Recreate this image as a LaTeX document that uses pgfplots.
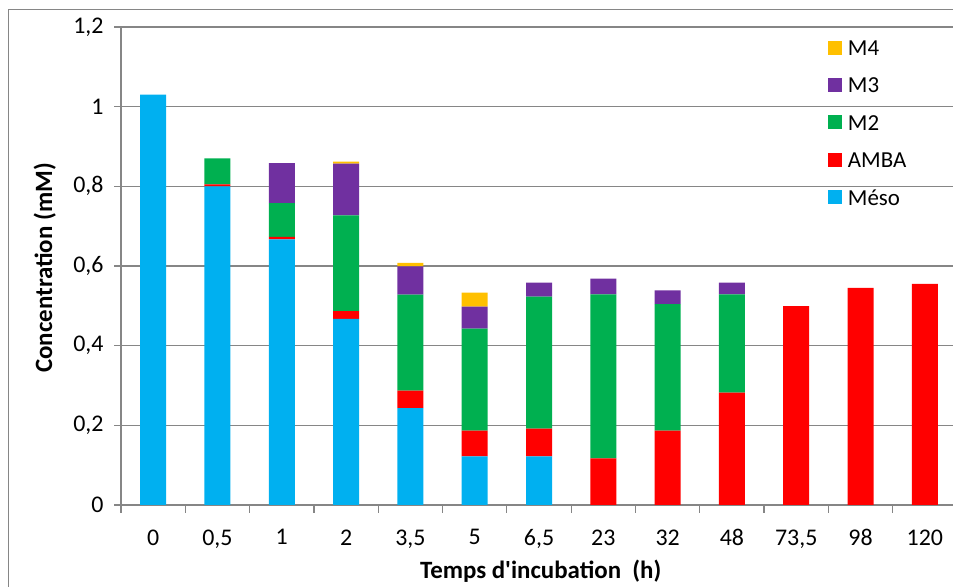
\documentclass[border=0pt]{standalone}
\usepackage{pgfplots}
\pgfplotsset{compat=1.18}
\usepackage{pgfplotstable}
\usepackage{fontspec}
\setmainfont{Carlito}
\definecolor{cMeso}{RGB}{0,176,240}
\definecolor{cAMBA}{RGB}{255,0,0}
\definecolor{cMtwo}{RGB}{0,176,80}
\definecolor{cMthree}{RGB}{112,48,160}
\definecolor{cMfour}{RGB}{255,192,0}
\definecolor{gridg}{RGB}{134,134,134}
\pgfplotstableread{
x Meso AMBA M2 M3 M4
0 1.03 0 0 0 0
1 0.80 0.005 0.065 0 0
2 0.667 0.006 0.085 0.10 0
3 0.467 0.02 0.24 0.13 0.005
4 0.243 0.044 0.241 0.071 0.009
5 0.122 0.065 0.256 0.055 0.035
6 0.122 0.07 0.331 0.035 0
7 0 0.117 0.412 0.039 0
8 0 0.187 0.317 0.035 0
9 0 0.282 0.247 0.029 0
10 0 0.499 0 0 0
11 0 0.545 0 0 0
12 0 0.555 0 0 0
}\datatable
\begin{document}
\begin{tikzpicture}[x=1bp,y=1bp]
\clip (0,0) rectangle (953,587);
\useasboundingbox (0,0) rectangle (953,587);
\draw[gridg, line width=1bp] (8,-20) rectangle (975,577);
\begin{axis}[
  at={(121bp,82bp)}, anchor=south west,
  scale only axis, width=836bp, height=478bp,
  ybar stacked, bar width=26bp,
  xmin=-0.5, xmax=12.5, ymin=0, ymax=1.2,
  xtick={0,...,12},
  xticklabels={0,{0,5},1,2,{3,5},5,{6,5},23,32,48,{73,5},98,120},
  major x tick style={draw=none},
  minor xtick={-0.5,0.5,...,12.5},
  minor tick length=8bp,
  ytick={0,0.2,...,1.2},
  /pgf/number format/use comma,
  /pgf/number format/fixed,
  /pgf/number format/precision=1,
  /pgf/number format/assume math mode=true,
  major tick length=7bp,
  tick align=outside,
  tick style={gridg, line width=1.2bp},
  ymajorgrids, grid style={gridg, line width=1.3bp},
  axis x line*=bottom, axis y line*=left,
  axis line style={gridg, line width=1.3bp},
  ticklabel style={font=\fontsize{24}{26}\selectfont, text=black},
  xticklabel style={yshift=-14bp},
  yticklabel style={xshift=-7bp},
  xlabel={\bfseries Temps d\textquotesingle incubation\ \ (h)},
  ylabel={\bfseries Concentration (mM)},
  label style={font=\fontsize{25}{28}\selectfont},
  xlabel style={at={(axis description cs:0.502,0)}, anchor=base, yshift=-74bp},
  ylabel style={at={(axis description cs:-0.0825,0.496)}, anchor=base},
  legend style={draw=none, fill=none, at={(0.842,0.98)}, anchor=north west,
    font=\fontsize{23}{26}\selectfont, row sep=17bp, cells={anchor=west}},
  legend image code/.code={\fill[#1] (0bp,-6bp) rectangle (14bp,8bp);},
  legend cell align=left,
  reverse legend,
]
\addplot[fill=cMeso, draw=none] table[x=x,y=Meso]{\datatable};
\addplot[fill=cAMBA, draw=none] table[x=x,y=AMBA]{\datatable};
\addplot[fill=cMtwo, draw=none] table[x=x,y=M2]{\datatable};
\addplot[fill=cMthree, draw=none] table[x=x,y=M3]{\datatable};
\addplot[fill=cMfour, draw=none] table[x=x,y=M4]{\datatable};
\legend{\,Méso,\,AMBA,\,M2,\,M3,\,M4}
\end{axis}
\end{tikzpicture}
\end{document}
